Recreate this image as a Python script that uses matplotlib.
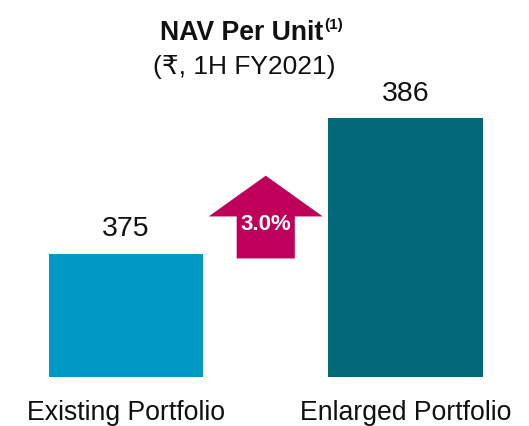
import matplotlib
matplotlib.use("Agg")
import matplotlib.pyplot as plt
from matplotlib.patches import Polygon

plt.rcParams['font.family'] = ['Liberation Sans', 'DejaVu Sans']

categories = ["Existing Portfolio", "Enlarged Portfolio"]
values = [375, 386]
growth_label = "3.0%"
title = "NAV Per Unit"
title_note = "(1)"
subtitle = "(\u20b9, 1H FY2021)"

bar_colors = ["#0098C4", "#006878"]
arrow_color = "#BE005A"

W, H = 529, 427
fig = plt.figure(figsize=(W / 100, H / 100), dpi=100)
ax = fig.add_axes([0, 49 / H, 1, 378 / H])

x = list(range(len(categories)))
ax.bar(x, values, width=0.551, color=bar_colors, bottom=0)
ymin = 365
ax.set_ylim(ymin, ymin + 378 / 12.35)
ax.set_xlim(-126 / 279.5, (W - 126) / 279.5)

for xi, v in zip(x, values):
    ax.annotate(f"{v}", (xi, v), xytext=(0, 13), textcoords="offset points",
                ha="center", va="baseline", fontsize=20.5, color="#111111")

ax.set_xticks(x)
ax.set_xticklabels(categories, fontsize=19.2, color="#111111")
ax.tick_params(axis="x", length=0, pad=16)
ax.set_yticks([])
for s in ax.spines.values():
    s.set_visible(False)

# growth arrow between the bars
xm = (x[0] + x[1]) / 2
hw, sw = 0.204, 0.104
y_tip, y_head, y_base = 381.3, 378.0, 374.6
pts = [(xm - sw, y_base), (xm + sw, y_base), (xm + sw, y_head), (xm + hw, y_head),
       (xm, y_tip), (xm - hw, y_head), (xm - sw, y_head)]
ax.add_patch(Polygon(pts, closed=True, facecolor=arrow_color, edgecolor="none"))
ax.text(xm, 377.4, growth_label, ha="center", va="center", fontsize=16,
        fontweight="bold", color="white")

fig.text(323 / W, 1 - 40 / H, title, ha="right", va="baseline", fontsize=19.2,
         fontweight="bold", color="#111111")
fig.text(324 / W, 1 - 29 / H, title_note, ha="left", va="baseline", fontsize=11,
         fontweight="bold", color="#111111")
fig.text(244.5 / W, 1 - 74 / H, subtitle, ha="center", va="baseline", fontsize=19,
         color="#111111")

fig.savefig("out.png", dpi=100)
